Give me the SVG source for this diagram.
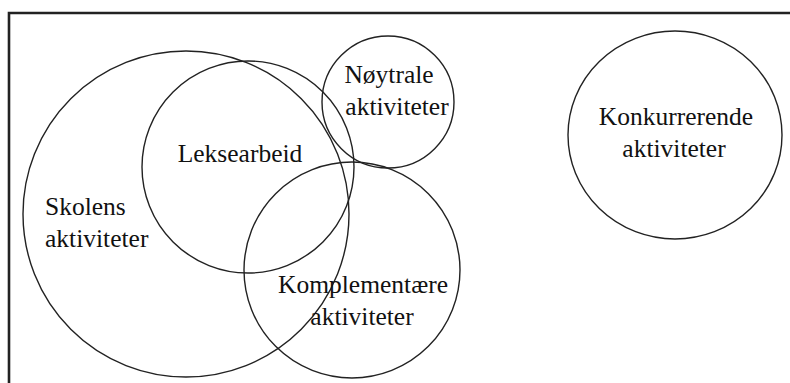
<svg xmlns="http://www.w3.org/2000/svg" width="790" height="383" viewBox="0 0 790 383">
<style>
.c{fill:none;stroke:#222;stroke-width:1.4}
.t{font-family:"Liberation Serif","Times New Roman",serif;font-size:25.5px;fill:#111}
.m{text-anchor:middle}
.f{stroke:#222;stroke-width:2.6;fill:none}
</style>
<rect width="790" height="383" fill="#fff"/>
<g id="frame"><path class="f" d="M9,383 V13 H790"/></g>
<g id="skolens">
<circle class="c" cx="186" cy="214" r="163"/>
<text class="t" x="45" y="215">Skolens</text>
<text class="t" x="45" y="247">aktiviteter</text>
</g>
<g id="leksearbeid">
<circle class="c" cx="248" cy="167" r="106"/>
<text class="t m" x="240" y="162">Leksearbeid</text>
</g>
<g id="noytrale">
<circle class="c" cx="388" cy="102" r="66"/>
<text class="t m" x="389" y="83">Nøytrale</text>
<text class="t m" x="397" y="115">aktiviteter</text>
</g>
<g id="komplementaere">
<circle class="c" cx="352" cy="270" r="108"/>
<text class="t m" x="363" y="293">Komplementære</text>
<text class="t m" x="362" y="325">aktiviteter</text>
</g>
<g id="konkurrerende">
<ellipse class="c" cx="675" cy="135" rx="107" ry="104"/>
<text class="t m" x="676" y="125">Konkurrerende</text>
<text class="t m" x="674" y="157">aktiviteter</text>
</g>
<g id="connectors"/>
</svg>
